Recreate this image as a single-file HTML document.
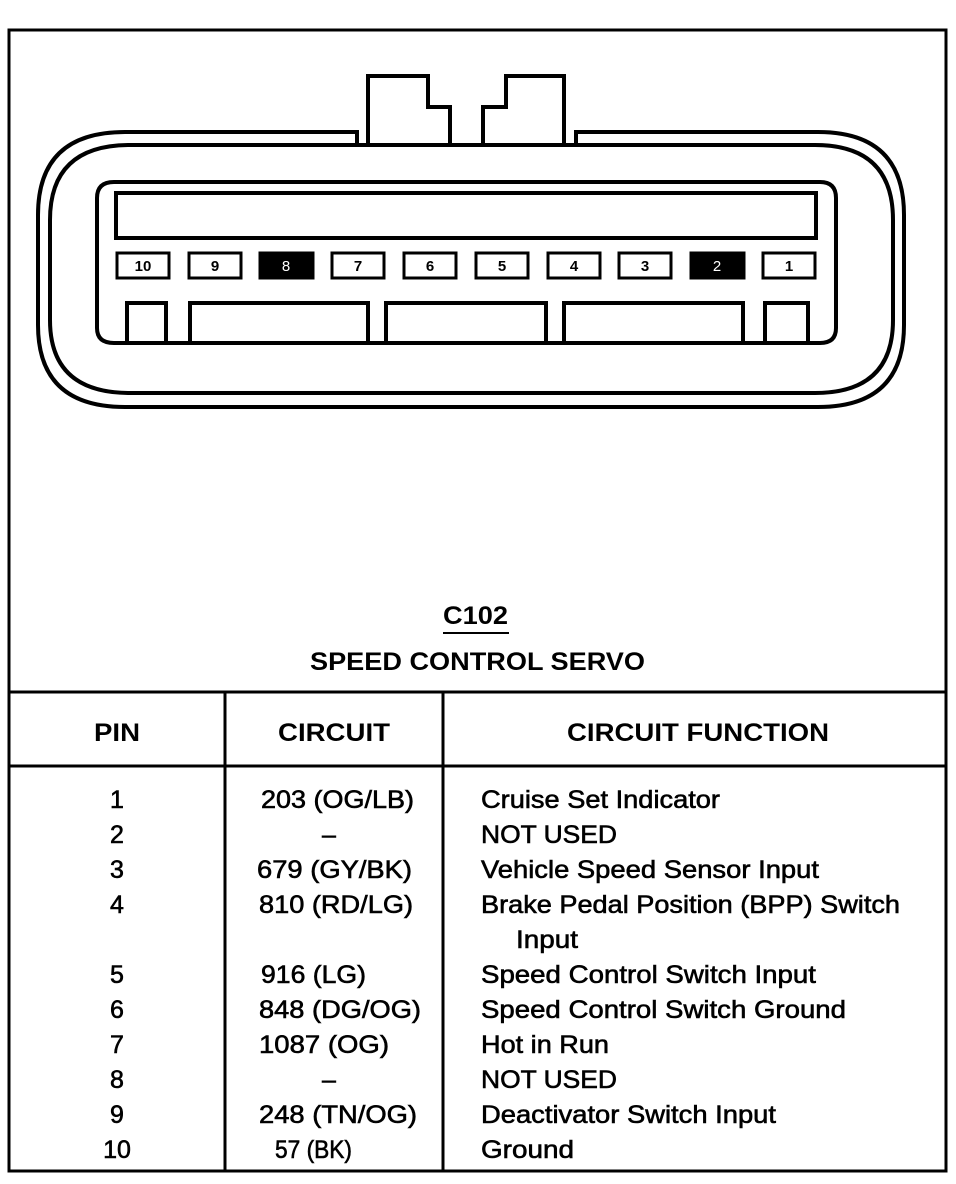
<!DOCTYPE html>
<html><head><meta charset="utf-8"><style>
html,body{margin:0;padding:0;background:#fff;}
svg{display:block;}
text{font-family:"Liberation Sans",Arial,sans-serif;fill:#000;}
.b{font-weight:bold;}
.r{font-size:25px;stroke:#000;stroke-width:0.6px;}
</style></head><body>
<svg width="956" height="1184" viewBox="0 0 956 1184" xmlns="http://www.w3.org/2000/svg">
<rect width="956" height="1184" fill="#fff"/>
<rect x="9" y="30" width="937" height="1141" fill="none" stroke="#000" stroke-width="3"/>
<g fill="none" stroke="#000" stroke-width="4" stroke-linejoin="miter">
<path d="M357 145 L357 132 L125 132 Q38 132 38 215 L38 325 Q38 407 125 407 L818 407 Q904 407 904 325 L904 215 Q904 132 818 132 L576 132 L576 145"/>
<path d="M130 145 L815 145 Q893 145 893 220 L893 320 Q893 393 815 393 L130 393 Q50 393 50 320 L50 220 Q50 145 130 145 Z"/>
<path d="M368 145 L368 76 L428 76 L428 107 L450 107 L450 145"/>
<path d="M483 145 L483 107 L506 107 L506 76 L564 76 L564 145"/>
<path d="M114 182 L820 182 Q836 182 836 198 L836 328 Q836 343 820 343 L114 343 Q97 343 97 328 L97 198 Q97 182 114 182 Z"/>
<rect x="116" y="193" width="700" height="45"/>
<path d="M127 343 L127 303 L166 303 L166 343"/>
<path d="M190 343 L190 303 L368 303 L368 343"/>
<path d="M386 343 L386 303 L546 303 L546 343"/>
<path d="M564 343 L564 303 L743 303 L743 343"/>
<path d="M765 343 L765 303 L808 303 L808 343"/>
</g>
<g stroke="#000" stroke-width="3">
<rect x="117" y="253" width="52" height="25" fill="#fff"/>
<rect x="189" y="253" width="52" height="25" fill="#fff"/>
<rect x="260" y="253" width="53" height="25" fill="#000"/>
<rect x="332" y="253" width="52" height="25" fill="#fff"/>
<rect x="404" y="253" width="52" height="25" fill="#fff"/>
<rect x="476" y="253" width="52" height="25" fill="#fff"/>
<rect x="548" y="253" width="52" height="25" fill="#fff"/>
<rect x="619" y="253" width="52" height="25" fill="#fff"/>
<rect x="691" y="253" width="53" height="25" fill="#000"/>
<rect x="763" y="253" width="52" height="25" fill="#fff"/>
</g>
<g class="b" font-size="15" text-anchor="middle">
<text x="143" y="271">10</text><text x="215" y="271">9</text>
<text x="286" y="271" style="fill:#fff;font-weight:normal">8</text>
<text x="358" y="271">7</text><text x="430" y="271">6</text><text x="502" y="271">5</text>
<text x="574" y="271">4</text><text x="645" y="271">3</text>
<text x="717" y="271" style="fill:#fff;font-weight:normal">2</text>
<text x="789" y="271">1</text>
</g>
<text class="b" x="443" y="624" font-size="25" textLength="65" lengthAdjust="spacingAndGlyphs">C102</text>
<line x1="443" y1="633" x2="509" y2="633" stroke="#000" stroke-width="2"/>
<text class="b" x="310" y="670" font-size="25" textLength="335" lengthAdjust="spacingAndGlyphs">SPEED CONTROL SERVO</text>
<g stroke="#000" stroke-width="3" fill="none">
<line x1="9" y1="692" x2="946" y2="692"/>
<line x1="9" y1="766" x2="946" y2="766"/>
<line x1="225" y1="692" x2="225" y2="1171"/>
<line x1="443" y1="692" x2="443" y2="1171"/>
</g>
<g class="b" font-size="25">
<text x="94" y="741" textLength="46" lengthAdjust="spacingAndGlyphs">PIN</text>
<text x="278" y="741" textLength="112" lengthAdjust="spacingAndGlyphs">CIRCUIT</text>
<text x="567" y="741" textLength="262" lengthAdjust="spacingAndGlyphs">CIRCUIT FUNCTION</text>
</g>
<g class="r" text-anchor="middle">
<text x="117" y="808">1</text><text x="117" y="843">2</text><text x="117" y="878">3</text>
<text x="117" y="913">4</text><text x="117" y="983">5</text><text x="117" y="1018">6</text>
<text x="117" y="1053">7</text><text x="117" y="1088">8</text><text x="117" y="1123">9</text>
<text x="117" y="1158">10</text>
</g>
<g class="r">
<text x="261" y="808" textLength="153" lengthAdjust="spacingAndGlyphs">203 (OG/LB)</text>
<text x="322" y="843">–</text>
<text x="257" y="878" textLength="155" lengthAdjust="spacingAndGlyphs">679 (GY/BK)</text>
<text x="259" y="913" textLength="154" lengthAdjust="spacingAndGlyphs">810 (RD/LG)</text>
<text x="261" y="983" textLength="105" lengthAdjust="spacingAndGlyphs">916 (LG)</text>
<text x="259" y="1018" textLength="162" lengthAdjust="spacingAndGlyphs">848 (DG/OG)</text>
<text x="259" y="1053" textLength="130" lengthAdjust="spacingAndGlyphs">1087 (OG)</text>
<text x="322" y="1088">–</text>
<text x="259" y="1123" textLength="158" lengthAdjust="spacingAndGlyphs">248 (TN/OG)</text>
<text x="275" y="1158" textLength="77" lengthAdjust="spacingAndGlyphs">57 (BK)</text>
</g>
<g class="r">
<text x="481" y="808" textLength="239" lengthAdjust="spacingAndGlyphs">Cruise Set Indicator</text>
<text x="481" y="843" textLength="136" lengthAdjust="spacingAndGlyphs">NOT USED</text>
<text x="481" y="878" textLength="338" lengthAdjust="spacingAndGlyphs">Vehicle Speed Sensor Input</text>
<text x="481" y="913" textLength="419" lengthAdjust="spacingAndGlyphs">Brake Pedal Position (BPP) Switch</text>
<text x="516" y="948" textLength="62" lengthAdjust="spacingAndGlyphs">Input</text>
<text x="481" y="983" textLength="335" lengthAdjust="spacingAndGlyphs">Speed Control Switch Input</text>
<text x="481" y="1018" textLength="365" lengthAdjust="spacingAndGlyphs">Speed Control Switch Ground</text>
<text x="481" y="1053" textLength="128" lengthAdjust="spacingAndGlyphs">Hot in Run</text>
<text x="481" y="1088" textLength="136" lengthAdjust="spacingAndGlyphs">NOT USED</text>
<text x="481" y="1123" textLength="295" lengthAdjust="spacingAndGlyphs">Deactivator Switch Input</text>
<text x="481" y="1158" textLength="93" lengthAdjust="spacingAndGlyphs">Ground</text>
</g>
</svg>
</body></html>
